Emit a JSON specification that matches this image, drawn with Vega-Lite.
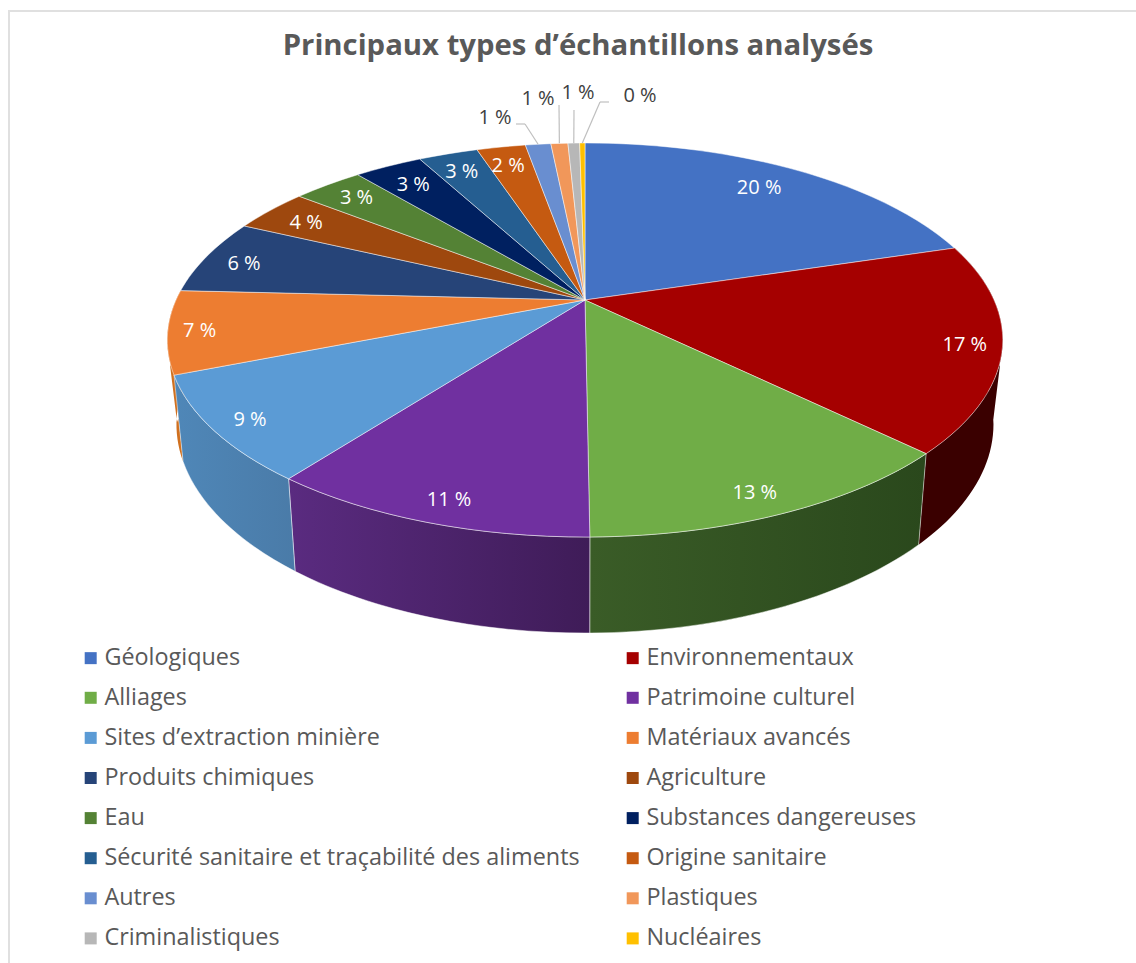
{"$schema":"https://vega.github.io/schema/vega-lite/v6.json","width":1136,"height":963,"padding":0,"autosize":{"type":"none"},"background":"white","title":{"text":"Principaux types d’échantillons analysés","frame":"group","anchor":"middle","dx":10,"dy":65,"font":"Open Sans","fontSize":29.3,"fontWeight":"bold","color":"#595959"},"config":{"view":{"stroke":null}},"data":{"values":[{"rank":1,"category":"Géologiques","share":20.3},{"rank":2,"category":"Environnementaux","share":17.0},{"rank":3,"category":"Alliages","share":12.55},{"rank":4,"category":"Patrimoine culturel","share":10.55},{"rank":5,"category":"Sites d’extraction minière","share":8.6},{"rank":6,"category":"Matériaux avancés","share":6.8},{"rank":7,"category":"Produits chimiques","share":6.2},{"rank":8,"category":"Agriculture","share":3.6},{"rank":9,"category":"Eau","share":3.3},{"rank":10,"category":"Substances dangereuses","share":3.2},{"rank":11,"category":"Sécurité sanitaire et traçabilité des aliments","share":2.8},{"rank":12,"category":"Origine sanitaire","share":2.3},{"rank":13,"category":"Autres","share":1.2},{"rank":14,"category":"Plastiques","share":0.8},{"rank":15,"category":"Criminalistiques","share":0.55},{"rank":16,"category":"Nucléaires","share":0.25}]},"transform":[{"stack":"share","groupby":[],"sort":[{"field":"rank","order":"ascending"}],"as":["p0","p1"]},{"calculate":"datum.p0/100*2*PI","as":"a0"},{"calculate":"datum.p1/100*2*PI","as":"a1"},{"calculate":"(datum.a0+datum.a1)/2","as":"am"},{"calculate":"409*sin(datum.a0)/(1+0.203*cos(datum.a0))","as":"x0"},{"calculate":"-188.9*cos(datum.a0)/(1+0.203*cos(datum.a0))","as":"y0"},{"calculate":"409*sin(datum.a1)/(1+0.203*cos(datum.a1))","as":"x1"},{"calculate":"-188.9*cos(datum.a1)/(1+0.203*cos(datum.a1))","as":"y1"},{"calculate":"409*sin(datum.am)/(1+0.203*cos(datum.am))","as":"mx"},{"calculate":"-188.9*cos(datum.am)/(1+0.203*cos(datum.am))","as":"my"},{"calculate":"409*0.9*sin(datum.am)/(1+0.9*0.203*cos(datum.am))+[-17,6,-4,5,-5,-11,1,7,6,8,2,0,0,0,0,0][datum.rank-1]","as":"lx"},{"calculate":"-188.9*0.9*cos(datum.am)/(1+0.9*0.203*cos(datum.am))+2+[5,1,3,3,3,1,1,2,1,5,4,4,0,0,0,0][datum.rank-1]","as":"ly"},{"calculate":"'M0,0L'+datum.x0+','+datum.y0+'A418,197 0 0,1 '+datum.x1+','+datum.y1+'Z'","as":"topPath"},{"calculate":"'M'+datum.x0+','+datum.y0+'A418,197 0 0,1 '+datum.x1+','+datum.y1+'L'+(0.978*datum.x1)+','+(1.06*datum.y1+81.8)+'A409,209 0 0,0 '+(0.978*datum.x0)+','+(1.06*datum.y0+81.8)+'Z'+(datum.rank==2?'M415,65L395,90L408,122Z':datum.rank==6?'M-415,65L-395,90L-408,122Z':'')","as":"wallPath"},{"calculate":"format(datum.share,'.0f')+' %'","as":"pct"},{"calculate":"({'Autres':-90,'Plastiques':-47,'Criminalistiques':-7,'Nucléaires':55})[datum.category]","as":"outX"},{"calculate":"({'Autres':-182,'Plastiques':-201,'Criminalistiques':-207,'Nucléaires':-204})[datum.category]","as":"outY"},{"calculate":"({'Autres':-60,'Plastiques':-26,'Criminalistiques':-11,'Nucléaires':15})[datum.category]","as":"elbowX"},{"calculate":"({'Autres':-176,'Plastiques':-195,'Criminalistiques':-190,'Nucléaires':-198})[datum.category]","as":"elbowY"},{"calculate":"({'Autres':-69,'Plastiques':-26,'Criminalistiques':-11,'Nucléaires':24})[datum.category]","as":"endX"}],"layer":[{"data":{"values":[{"frame":"edge"}]},"transform":[],"mark":{"type":"rule","color":"#e0e0e0","strokeWidth":2},"encoding":{"x":{"datum":-576,"type":"quantitative","scale":{"domain":[-585,551],"nice":false,"zero":false},"axis":null},"y":{"datum":-289,"type":"quantitative","scale":{"domain":[-300,663],"range":[0,963],"nice":false,"zero":false},"axis":null},"y2":{"datum":663}}},{"data":{"values":[{"frame":"edge"}]},"transform":[],"mark":{"type":"rule","color":"#e0e0e0","strokeWidth":2},"encoding":{"x":{"datum":-577,"type":"quantitative"},"x2":{"datum":551},"y":{"datum":-289,"type":"quantitative"}}},{"transform":[{"filter":"datum.rank==2"}],"mark":{"type":"point","filled":true,"opacity":1,"size":4,"fill":"#3a0000"},"encoding":{"x":{"datum":0,"type":"quantitative"},"y":{"datum":0,"type":"quantitative"},"shape":{"field":"wallPath","type":"nominal","scale":null,"legend":null}}},{"transform":[{"filter":"datum.rank==3"}],"mark":{"type":"point","filled":true,"opacity":1,"size":4,"fill":{"gradient":"linear","x1":0,"y1":0,"x2":1,"y2":0,"stops":[{"offset":0,"color":"#3a5c27"},{"offset":1,"color":"#2a481c"}]},"stroke":"#ffffff","strokeOpacity":0.6,"strokeWidth":0.8},"encoding":{"x":{"datum":0,"type":"quantitative"},"y":{"datum":0,"type":"quantitative"},"shape":{"field":"wallPath","type":"nominal","scale":null,"legend":null}}},{"transform":[{"filter":"datum.rank==4"}],"mark":{"type":"point","filled":true,"opacity":1,"size":4,"fill":{"gradient":"linear","x1":0,"y1":0,"x2":1,"y2":0,"stops":[{"offset":0,"color":"#5a2b80"},{"offset":1,"color":"#3f1c58"}]},"stroke":"#ffffff","strokeOpacity":0.6,"strokeWidth":0.8},"encoding":{"x":{"datum":0,"type":"quantitative"},"y":{"datum":0,"type":"quantitative"},"shape":{"field":"wallPath","type":"nominal","scale":null,"legend":null}}},{"transform":[{"filter":"datum.rank==6"}],"mark":{"type":"point","filled":true,"opacity":1,"size":4,"fill":"#d0701f"},"encoding":{"x":{"datum":0,"type":"quantitative"},"y":{"datum":0,"type":"quantitative"},"shape":{"field":"wallPath","type":"nominal","scale":null,"legend":null}}},{"transform":[{"filter":"datum.rank==5"}],"mark":{"type":"point","filled":true,"opacity":1,"size":4,"fill":{"gradient":"linear","x1":0,"y1":0,"x2":1,"y2":0,"stops":[{"offset":0,"color":"#4f87b8"},{"offset":1,"color":"#4a7ba8"}]},"stroke":"#ffffff","strokeOpacity":0.6,"strokeWidth":0.8},"encoding":{"x":{"datum":0,"type":"quantitative"},"y":{"datum":0,"type":"quantitative"},"shape":{"field":"wallPath","type":"nominal","scale":null,"legend":null}}},{"mark":{"type":"point","filled":true,"opacity":1,"size":4,"stroke":"#ffffff","strokeOpacity":0.6,"strokeWidth":0.8},"encoding":{"x":{"datum":0,"type":"quantitative"},"y":{"datum":0,"type":"quantitative"},"shape":{"field":"topPath","type":"nominal","scale":null,"legend":null},"color":{"field":"category","type":"nominal","scale":{"domain":["Géologiques","Environnementaux","Alliages","Patrimoine culturel","Sites d’extraction minière","Matériaux avancés","Produits chimiques","Agriculture","Eau","Substances dangereuses","Sécurité sanitaire et traçabilité des aliments","Origine sanitaire","Autres","Plastiques","Criminalistiques","Nucléaires"],"range":["#4472C4","#A50000","#70AD47","#7030A0","#5B9BD5","#ED7D31","#264478","#9E480E","#548235","#002060","#255E91","#C55A11","#698ED0","#F1975A","#B7B7B7","#FFC000"]},"legend":{"title":null,"orient":"none","legendX":79,"legendY":646,"columns":2,"direction":"horizontal","symbolType":"square","symbolSize":144,"symbolStrokeWidth":0,"labelFont":"Open Sans","labelFontSize":23.4,"labelColor":"#595959","labelOffset":2,"labelLimit":600,"rowPadding":15.1,"columnPadding":41,"gridAlign":"each"}}}},{"transform":[{"filter":"datum.rank<=12"}],"mark":{"type":"text","font":"Open Sans","fontSize":20,"color":"#ffffff","baseline":"middle","align":"center"},"encoding":{"x":{"field":"lx","type":"quantitative"},"y":{"field":"ly","type":"quantitative"},"text":{"field":"pct"}}},{"transform":[{"filter":"datum.rank>=13"}],"mark":{"type":"rule","color":"#bfbfbf","strokeWidth":1.2},"encoding":{"x":{"field":"mx","type":"quantitative"},"y":{"field":"my","type":"quantitative"},"x2":{"field":"elbowX"},"y2":{"field":"elbowY"}}},{"transform":[{"filter":"datum.rank>=13"}],"mark":{"type":"rule","color":"#bfbfbf","strokeWidth":1.2},"encoding":{"x":{"field":"elbowX","type":"quantitative"},"y":{"field":"elbowY","type":"quantitative"},"x2":{"field":"endX"},"y2":{"field":"elbowY"}}},{"transform":[{"filter":"datum.rank>=13"}],"mark":{"type":"text","font":"Open Sans","fontSize":20,"color":"#404040","baseline":"middle","align":"center"},"encoding":{"x":{"field":"outX","type":"quantitative"},"y":{"field":"outY","type":"quantitative"},"text":{"field":"pct"}}}]}
